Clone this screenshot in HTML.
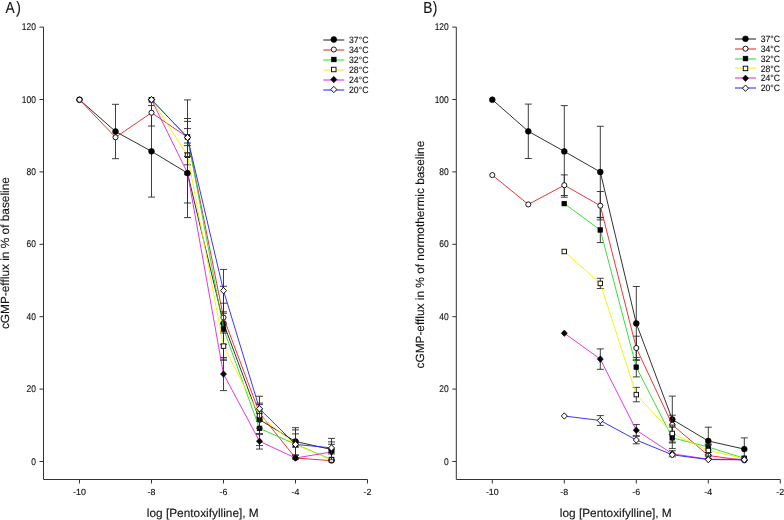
<!DOCTYPE html>
<html><head><meta charset="utf-8"><style>
html,body{margin:0;padding:0;background:#fff;}
svg{display:block;}
#w{width:784px;height:520px;will-change:transform;}
text{text-rendering:geometricPrecision;font-family:"Liberation Sans",sans-serif;fill:#111;stroke:#111;stroke-width:0.12px;}
.tk{font-size:8.9px;}
.lg{font-size:8.7px;}
.ti{font-size:11.85px;}
.tiy{font-size:11.87px;}
.pl{font-size:16px;}
</style></head><body>
<div id="w"><svg width="784" height="520" viewBox="0 0 784 520">
<rect width="784" height="520" fill="#fff"/>
<g>
<path d="M43.5 27.10V479.50H367.50" fill="none" stroke="#333" stroke-width="1"/>
<line x1="39.5" y1="461.50" x2="43.5" y2="461.50" stroke="#333" stroke-width="1"/>
<text transform="translate(35.90 464.60) scale(0.95 1.1)" class="tk" text-anchor="end">0</text>
<line x1="39.5" y1="389.10" x2="43.5" y2="389.10" stroke="#333" stroke-width="1"/>
<text transform="translate(35.90 392.20) scale(0.95 1.1)" class="tk" text-anchor="end">20</text>
<line x1="39.5" y1="316.70" x2="43.5" y2="316.70" stroke="#333" stroke-width="1"/>
<text transform="translate(35.90 319.80) scale(0.95 1.1)" class="tk" text-anchor="end">40</text>
<line x1="39.5" y1="244.30" x2="43.5" y2="244.30" stroke="#333" stroke-width="1"/>
<text transform="translate(35.90 247.40) scale(0.95 1.1)" class="tk" text-anchor="end">60</text>
<line x1="39.5" y1="171.90" x2="43.5" y2="171.90" stroke="#333" stroke-width="1"/>
<text transform="translate(35.90 175.00) scale(0.95 1.1)" class="tk" text-anchor="end">80</text>
<line x1="39.5" y1="99.50" x2="43.5" y2="99.50" stroke="#333" stroke-width="1"/>
<text transform="translate(35.90 102.60) scale(0.95 1.1)" class="tk" text-anchor="end">100</text>
<line x1="39.5" y1="27.10" x2="43.5" y2="27.10" stroke="#333" stroke-width="1"/>
<text transform="translate(35.90 30.20) scale(0.95 1.1)" class="tk" text-anchor="end">120</text>
<line x1="79.50" y1="479.50" x2="79.50" y2="483.50" stroke="#333" stroke-width="1"/>
<text x="79.50" y="494.8" class="tk" text-anchor="middle">-10</text>
<line x1="151.50" y1="479.50" x2="151.50" y2="483.50" stroke="#333" stroke-width="1"/>
<text x="151.50" y="494.8" class="tk" text-anchor="middle">-8</text>
<line x1="223.50" y1="479.50" x2="223.50" y2="483.50" stroke="#333" stroke-width="1"/>
<text x="223.50" y="494.8" class="tk" text-anchor="middle">-6</text>
<line x1="295.50" y1="479.50" x2="295.50" y2="483.50" stroke="#333" stroke-width="1"/>
<text x="295.50" y="494.8" class="tk" text-anchor="middle">-4</text>
<line x1="367.50" y1="479.50" x2="367.50" y2="483.50" stroke="#333" stroke-width="1"/>
<text x="367.50" y="494.8" class="tk" text-anchor="middle">-2</text>
<text x="202.80" y="517.2" class="ti" text-anchor="middle">log [Pentoxifylline], M</text>
<text transform="translate(5.60 12.6) scale(0.86 1)" class="pl">A</text>
<text transform="translate(16.20 12.9) scale(0.86 1.03)" class="pl">)</text>
<path d="M115.50 104.30V158.70M112.00 104.30H119.00M112.00 158.70H119.00" stroke="#2a2a2a" stroke-width="0.9" fill="none"/>
<path d="M151.50 105.50V197.10M148.00 105.50H155.00M148.00 197.10H155.00" stroke="#2a2a2a" stroke-width="0.9" fill="none"/>
<path d="M187.50 128.60V217.60M184.00 128.60H191.00M184.00 217.60H191.00" stroke="#2a2a2a" stroke-width="0.9" fill="none"/>
<path d="M223.50 286.30V360.30M220.00 286.30H227.00M220.00 360.30H227.00" stroke="#2a2a2a" stroke-width="0.9" fill="none"/>
<path d="M259.50 404.60V434.60M256.00 404.60H263.00M256.00 434.60H263.00" stroke="#2a2a2a" stroke-width="0.9" fill="none"/>
<path d="M295.50 427.70V455.30M292.00 427.70H299.00M292.00 455.30H299.00" stroke="#2a2a2a" stroke-width="0.9" fill="none"/>
<path d="M331.50 438.40V460.60M328.00 438.40H335.00M328.00 460.60H335.00" stroke="#2a2a2a" stroke-width="0.9" fill="none"/>
<path d="M79.50 99.70L115.50 131.50L151.50 151.30L187.50 173.10L223.50 323.30L259.50 419.60L295.50 441.50L331.50 449.50" stroke="#1a1a1a" stroke-width="0.9" fill="none"/>
<circle cx="79.50" cy="99.70" r="2.9" fill="#000" stroke="#000" stroke-width="0.6"/>
<circle cx="115.50" cy="131.50" r="2.9" fill="#000" stroke="#000" stroke-width="0.6"/>
<circle cx="151.50" cy="151.30" r="2.9" fill="#000" stroke="#000" stroke-width="0.6"/>
<circle cx="187.50" cy="173.10" r="2.9" fill="#000" stroke="#000" stroke-width="0.6"/>
<circle cx="223.50" cy="323.30" r="2.9" fill="#000" stroke="#000" stroke-width="0.6"/>
<circle cx="259.50" cy="419.60" r="2.9" fill="#000" stroke="#000" stroke-width="0.6"/>
<circle cx="295.50" cy="441.50" r="2.9" fill="#000" stroke="#000" stroke-width="0.6"/>
<circle cx="331.50" cy="449.50" r="2.9" fill="#000" stroke="#000" stroke-width="0.6"/>
<path d="M151.50 99.40V126.00M148.00 99.40H155.00M148.00 126.00H155.00" stroke="#2a2a2a" stroke-width="0.9" fill="none"/>
<path d="M187.50 99.90V174.70M184.00 99.90H191.00M184.00 174.70H191.00" stroke="#2a2a2a" stroke-width="0.9" fill="none"/>
<path d="M223.50 303.20V331.80M220.00 303.20H227.00M220.00 331.80H227.00" stroke="#2a2a2a" stroke-width="0.9" fill="none"/>
<path d="M259.50 409.10V417.10M256.00 409.10H263.00M256.00 417.10H263.00" stroke="#2a2a2a" stroke-width="0.9" fill="none"/>
<path d="M79.50 99.70L115.50 137.30L151.50 112.70L187.50 137.30L223.50 317.50L259.50 413.10L295.50 458.00L331.50 460.70" stroke="#e82020" stroke-width="0.9" fill="none"/>
<circle cx="79.50" cy="99.70" r="2.55" fill="#fff" stroke="#000" stroke-width="0.9"/>
<circle cx="115.50" cy="137.30" r="2.55" fill="#fff" stroke="#000" stroke-width="0.9"/>
<circle cx="151.50" cy="112.70" r="2.55" fill="#fff" stroke="#000" stroke-width="0.9"/>
<circle cx="187.50" cy="137.30" r="2.55" fill="#fff" stroke="#000" stroke-width="0.9"/>
<circle cx="223.50" cy="317.50" r="2.55" fill="#fff" stroke="#000" stroke-width="0.9"/>
<circle cx="259.50" cy="413.10" r="2.55" fill="#fff" stroke="#000" stroke-width="0.9"/>
<circle cx="295.50" cy="458.00" r="2.55" fill="#fff" stroke="#000" stroke-width="0.9"/>
<circle cx="331.50" cy="460.70" r="2.55" fill="#fff" stroke="#000" stroke-width="0.9"/>
<path d="M187.50 121.40V152.80M184.00 121.40H191.00M184.00 152.80H191.00" stroke="#2a2a2a" stroke-width="0.9" fill="none"/>
<path d="M223.50 313.30V344.30M220.00 313.30H227.00M220.00 344.30H227.00" stroke="#2a2a2a" stroke-width="0.9" fill="none"/>
<path d="M259.50 411.20V445.60M256.00 411.20H263.00M256.00 445.60H263.00" stroke="#2a2a2a" stroke-width="0.9" fill="none"/>
<path d="M295.50 441.20V447.20M292.00 441.20H299.00M292.00 447.20H299.00" stroke="#2a2a2a" stroke-width="0.9" fill="none"/>
<path d="M151.50 99.70L187.50 137.10L223.50 328.80L259.50 428.40L295.50 444.20L331.50 459.50" stroke="#20dd20" stroke-width="0.9" fill="none"/>
<rect x="149.10" y="97.30" width="4.8" height="4.8" fill="#000" stroke="#000" stroke-width="0.5"/>
<rect x="185.10" y="134.70" width="4.8" height="4.8" fill="#000" stroke="#000" stroke-width="0.5"/>
<rect x="221.10" y="326.40" width="4.8" height="4.8" fill="#000" stroke="#000" stroke-width="0.5"/>
<rect x="257.10" y="426.00" width="4.8" height="4.8" fill="#000" stroke="#000" stroke-width="0.5"/>
<rect x="293.10" y="441.80" width="4.8" height="4.8" fill="#000" stroke="#000" stroke-width="0.5"/>
<rect x="329.10" y="457.10" width="4.8" height="4.8" fill="#000" stroke="#000" stroke-width="0.5"/>
<path d="M187.50 145.60V164.80M184.00 145.60H191.00M184.00 164.80H191.00" stroke="#2a2a2a" stroke-width="0.9" fill="none"/>
<path d="M223.50 333.10V359.10M220.00 333.10H227.00M220.00 359.10H227.00" stroke="#2a2a2a" stroke-width="0.9" fill="none"/>
<path d="M259.50 403.10V428.10M256.00 403.10H263.00M256.00 428.10H263.00" stroke="#2a2a2a" stroke-width="0.9" fill="none"/>
<path d="M295.50 429.90V459.10M292.00 429.90H299.00M292.00 459.10H299.00" stroke="#2a2a2a" stroke-width="0.9" fill="none"/>
<path d="M151.50 99.70L187.50 155.20L223.50 346.10L259.50 415.60L295.50 444.50L331.50 460.00" stroke="#f2f200" stroke-width="0.9" fill="none"/>
<rect x="149.25" y="97.45" width="4.5" height="4.5" fill="#fff" stroke="#000" stroke-width="0.9"/>
<rect x="185.25" y="152.95" width="4.5" height="4.5" fill="#fff" stroke="#000" stroke-width="0.9"/>
<rect x="221.25" y="343.85" width="4.5" height="4.5" fill="#fff" stroke="#000" stroke-width="0.9"/>
<rect x="257.25" y="413.35" width="4.5" height="4.5" fill="#fff" stroke="#000" stroke-width="0.9"/>
<rect x="293.25" y="442.25" width="4.5" height="4.5" fill="#fff" stroke="#000" stroke-width="0.9"/>
<rect x="329.25" y="457.75" width="4.5" height="4.5" fill="#fff" stroke="#000" stroke-width="0.9"/>
<path d="M187.50 143.00V203.00M184.00 143.00H191.00M184.00 203.00H191.00" stroke="#2a2a2a" stroke-width="0.9" fill="none"/>
<path d="M223.50 357.40V390.60M220.00 357.40H227.00M220.00 390.60H227.00" stroke="#2a2a2a" stroke-width="0.9" fill="none"/>
<path d="M259.50 433.45V449.05M256.00 433.45H263.00M256.00 449.05H263.00" stroke="#2a2a2a" stroke-width="0.9" fill="none"/>
<path d="M331.50 444.30V459.70M328.00 444.30H335.00M328.00 459.70H335.00" stroke="#2a2a2a" stroke-width="0.9" fill="none"/>
<path d="M151.50 99.70L187.50 173.00L223.50 374.00L259.50 441.25L295.50 458.00L331.50 452.00" stroke="#e020e0" stroke-width="0.9" fill="none"/>
<path d="M151.50 96.40L154.60 99.70L151.50 103.00L148.40 99.70Z" fill="#000" stroke="#000" stroke-width="0.5"/>
<path d="M187.50 169.70L190.60 173.00L187.50 176.30L184.40 173.00Z" fill="#000" stroke="#000" stroke-width="0.5"/>
<path d="M223.50 370.70L226.60 374.00L223.50 377.30L220.40 374.00Z" fill="#000" stroke="#000" stroke-width="0.5"/>
<path d="M259.50 437.95L262.60 441.25L259.50 444.55L256.40 441.25Z" fill="#000" stroke="#000" stroke-width="0.5"/>
<path d="M295.50 454.70L298.60 458.00L295.50 461.30L292.40 458.00Z" fill="#000" stroke="#000" stroke-width="0.5"/>
<path d="M331.50 448.70L334.60 452.00L331.50 455.30L328.40 452.00Z" fill="#000" stroke="#000" stroke-width="0.5"/>
<path d="M187.50 118.50V156.50M184.00 118.50H191.00M184.00 156.50H191.00" stroke="#2a2a2a" stroke-width="0.9" fill="none"/>
<path d="M223.50 269.40V311.80M220.00 269.40H227.00M220.00 311.80H227.00" stroke="#2a2a2a" stroke-width="0.9" fill="none"/>
<path d="M259.50 396.25V421.25M256.00 396.25H263.00M256.00 421.25H263.00" stroke="#2a2a2a" stroke-width="0.9" fill="none"/>
<path d="M295.50 433.90V454.90M292.00 433.90H299.00M292.00 454.90H299.00" stroke="#2a2a2a" stroke-width="0.9" fill="none"/>
<path d="M331.50 441.90V453.90M328.00 441.90H335.00M328.00 453.90H335.00" stroke="#2a2a2a" stroke-width="0.9" fill="none"/>
<path d="M151.50 99.70L187.50 137.50L223.50 290.60L259.50 408.75L295.50 444.40L331.50 447.90" stroke="#2020f0" stroke-width="0.9" fill="none"/>
<path d="M151.50 96.50L154.50 99.70L151.50 102.90L148.50 99.70Z" fill="#fff" stroke="#000" stroke-width="0.9"/>
<path d="M187.50 134.30L190.50 137.50L187.50 140.70L184.50 137.50Z" fill="#fff" stroke="#000" stroke-width="0.9"/>
<path d="M223.50 287.40L226.50 290.60L223.50 293.80L220.50 290.60Z" fill="#fff" stroke="#000" stroke-width="0.9"/>
<path d="M259.50 405.55L262.50 408.75L259.50 411.95L256.50 408.75Z" fill="#fff" stroke="#000" stroke-width="0.9"/>
<path d="M295.50 441.20L298.50 444.40L295.50 447.60L292.50 444.40Z" fill="#fff" stroke="#000" stroke-width="0.9"/>
<path d="M331.50 444.70L334.50 447.90L331.50 451.10L328.50 447.90Z" fill="#fff" stroke="#000" stroke-width="0.9"/>
<line x1="323.30" y1="40.00" x2="344.30" y2="40.00" stroke="#1a1a1a" stroke-width="1"/>
<circle cx="333.80" cy="39.50" r="2.9" fill="#000" stroke="#000" stroke-width="0.6"/>
<text transform="translate(349.00 42.60) scale(1 1.05)" class="lg">37°C</text>
<line x1="323.30" y1="50.00" x2="344.30" y2="50.00" stroke="#e82020" stroke-width="1"/>
<circle cx="333.80" cy="49.50" r="2.55" fill="#fff" stroke="#000" stroke-width="0.9"/>
<text transform="translate(349.00 52.60) scale(1 1.05)" class="lg">34°C</text>
<line x1="323.30" y1="60.00" x2="344.30" y2="60.00" stroke="#20dd20" stroke-width="1"/>
<rect x="331.40" y="57.10" width="4.8" height="4.8" fill="#000" stroke="#000" stroke-width="0.5"/>
<text transform="translate(349.00 62.60) scale(1 1.05)" class="lg">32°C</text>
<line x1="323.30" y1="70.00" x2="344.30" y2="70.00" stroke="#f2f200" stroke-width="1"/>
<rect x="331.55" y="67.25" width="4.5" height="4.5" fill="#fff" stroke="#000" stroke-width="0.9"/>
<text transform="translate(349.00 72.60) scale(1 1.05)" class="lg">28°C</text>
<line x1="323.30" y1="80.00" x2="344.30" y2="80.00" stroke="#e020e0" stroke-width="1"/>
<path d="M333.80 76.20L336.90 79.50L333.80 82.80L330.70 79.50Z" fill="#000" stroke="#000" stroke-width="0.5"/>
<text transform="translate(349.00 82.60) scale(1 1.05)" class="lg">24°C</text>
<line x1="323.30" y1="90.00" x2="344.30" y2="90.00" stroke="#2020f0" stroke-width="1"/>
<path d="M333.80 86.30L336.80 89.50L333.80 92.70L330.80 89.50Z" fill="#fff" stroke="#000" stroke-width="0.9"/>
<text transform="translate(349.00 92.60) scale(1 1.05)" class="lg">20°C</text>
<path d="M456.3 27.10V479.50H780.30" fill="none" stroke="#333" stroke-width="1"/>
<line x1="452.3" y1="461.50" x2="456.3" y2="461.50" stroke="#333" stroke-width="1"/>
<text transform="translate(448.70 464.60) scale(0.95 1.1)" class="tk" text-anchor="end">0</text>
<line x1="452.3" y1="389.10" x2="456.3" y2="389.10" stroke="#333" stroke-width="1"/>
<text transform="translate(448.70 392.20) scale(0.95 1.1)" class="tk" text-anchor="end">20</text>
<line x1="452.3" y1="316.70" x2="456.3" y2="316.70" stroke="#333" stroke-width="1"/>
<text transform="translate(448.70 319.80) scale(0.95 1.1)" class="tk" text-anchor="end">40</text>
<line x1="452.3" y1="244.30" x2="456.3" y2="244.30" stroke="#333" stroke-width="1"/>
<text transform="translate(448.70 247.40) scale(0.95 1.1)" class="tk" text-anchor="end">60</text>
<line x1="452.3" y1="171.90" x2="456.3" y2="171.90" stroke="#333" stroke-width="1"/>
<text transform="translate(448.70 175.00) scale(0.95 1.1)" class="tk" text-anchor="end">80</text>
<line x1="452.3" y1="99.50" x2="456.3" y2="99.50" stroke="#333" stroke-width="1"/>
<text transform="translate(448.70 102.60) scale(0.95 1.1)" class="tk" text-anchor="end">100</text>
<line x1="452.3" y1="27.10" x2="456.3" y2="27.10" stroke="#333" stroke-width="1"/>
<text transform="translate(448.70 30.20) scale(0.95 1.1)" class="tk" text-anchor="end">120</text>
<line x1="492.30" y1="479.50" x2="492.30" y2="483.50" stroke="#333" stroke-width="1"/>
<text x="492.30" y="494.8" class="tk" text-anchor="middle">-10</text>
<line x1="564.30" y1="479.50" x2="564.30" y2="483.50" stroke="#333" stroke-width="1"/>
<text x="564.30" y="494.8" class="tk" text-anchor="middle">-8</text>
<line x1="636.30" y1="479.50" x2="636.30" y2="483.50" stroke="#333" stroke-width="1"/>
<text x="636.30" y="494.8" class="tk" text-anchor="middle">-6</text>
<line x1="708.30" y1="479.50" x2="708.30" y2="483.50" stroke="#333" stroke-width="1"/>
<text x="708.30" y="494.8" class="tk" text-anchor="middle">-4</text>
<line x1="780.30" y1="479.50" x2="780.30" y2="483.50" stroke="#333" stroke-width="1"/>
<text x="780.30" y="494.8" class="tk" text-anchor="middle">-2</text>
<text x="615.80" y="517.2" class="ti" text-anchor="middle">log [Pentoxifylline], M</text>
<text transform="translate(423.20 12.6) scale(0.86 1)" class="pl">B</text>
<text transform="translate(432.80 12.9) scale(0.86 1.03)" class="pl">)</text>
<path d="M528.30 104.10V158.50M524.80 104.10H531.80M524.80 158.50H531.80" stroke="#2a2a2a" stroke-width="0.9" fill="none"/>
<path d="M564.30 105.60V197.20M560.80 105.60H567.80M560.80 197.20H567.80" stroke="#2a2a2a" stroke-width="0.9" fill="none"/>
<path d="M600.30 126.30V217.70M596.80 126.30H603.80M596.80 217.70H603.80" stroke="#2a2a2a" stroke-width="0.9" fill="none"/>
<path d="M636.30 286.50V360.30M632.80 286.50H639.80M632.80 360.30H639.80" stroke="#2a2a2a" stroke-width="0.9" fill="none"/>
<path d="M672.30 396.10V442.90M668.80 396.10H675.80M668.80 442.90H675.80" stroke="#2a2a2a" stroke-width="0.9" fill="none"/>
<path d="M708.30 427.20V454.80M704.80 427.20H711.80M704.80 454.80H711.80" stroke="#2a2a2a" stroke-width="0.9" fill="none"/>
<path d="M744.30 437.90V460.30M740.80 437.90H747.80M740.80 460.30H747.80" stroke="#2a2a2a" stroke-width="0.9" fill="none"/>
<path d="M492.30 99.70L528.30 131.30L564.30 151.40L600.30 172.00L636.30 323.40L672.30 419.50L708.30 441.00L744.30 449.10" stroke="#1a1a1a" stroke-width="0.9" fill="none"/>
<circle cx="492.30" cy="99.70" r="2.9" fill="#000" stroke="#000" stroke-width="0.6"/>
<circle cx="528.30" cy="131.30" r="2.9" fill="#000" stroke="#000" stroke-width="0.6"/>
<circle cx="564.30" cy="151.40" r="2.9" fill="#000" stroke="#000" stroke-width="0.6"/>
<circle cx="600.30" cy="172.00" r="2.9" fill="#000" stroke="#000" stroke-width="0.6"/>
<circle cx="636.30" cy="323.40" r="2.9" fill="#000" stroke="#000" stroke-width="0.6"/>
<circle cx="672.30" cy="419.50" r="2.9" fill="#000" stroke="#000" stroke-width="0.6"/>
<circle cx="708.30" cy="441.00" r="2.9" fill="#000" stroke="#000" stroke-width="0.6"/>
<circle cx="744.30" cy="449.10" r="2.9" fill="#000" stroke="#000" stroke-width="0.6"/>
<path d="M564.30 174.90V195.50M560.80 174.90H567.80M560.80 195.50H567.80" stroke="#2a2a2a" stroke-width="0.9" fill="none"/>
<path d="M600.30 191.50V219.90M596.80 191.50H603.80M596.80 219.90H603.80" stroke="#2a2a2a" stroke-width="0.9" fill="none"/>
<path d="M636.30 336.20V359.80M632.80 336.20H639.80M632.80 359.80H639.80" stroke="#2a2a2a" stroke-width="0.9" fill="none"/>
<path d="M672.30 415.20V434.40M668.80 415.20H675.80M668.80 434.40H675.80" stroke="#2a2a2a" stroke-width="0.9" fill="none"/>
<path d="M708.30 452.50V458.50M704.80 452.50H711.80M704.80 458.50H711.80" stroke="#2a2a2a" stroke-width="0.9" fill="none"/>
<path d="M492.30 175.10L528.30 204.40L564.30 185.20L600.30 205.70L636.30 348.00L672.30 424.80L708.30 455.50L744.30 460.40" stroke="#e82020" stroke-width="0.9" fill="none"/>
<circle cx="492.30" cy="175.10" r="2.55" fill="#fff" stroke="#000" stroke-width="0.9"/>
<circle cx="528.30" cy="204.40" r="2.55" fill="#fff" stroke="#000" stroke-width="0.9"/>
<circle cx="564.30" cy="185.20" r="2.55" fill="#fff" stroke="#000" stroke-width="0.9"/>
<circle cx="600.30" cy="205.70" r="2.55" fill="#fff" stroke="#000" stroke-width="0.9"/>
<circle cx="636.30" cy="348.00" r="2.55" fill="#fff" stroke="#000" stroke-width="0.9"/>
<circle cx="672.30" cy="424.80" r="2.55" fill="#fff" stroke="#000" stroke-width="0.9"/>
<circle cx="708.30" cy="455.50" r="2.55" fill="#fff" stroke="#000" stroke-width="0.9"/>
<circle cx="744.30" cy="460.40" r="2.55" fill="#fff" stroke="#000" stroke-width="0.9"/>
<path d="M600.30 217.40V242.60M596.80 217.40H603.80M596.80 242.60H603.80" stroke="#2a2a2a" stroke-width="0.9" fill="none"/>
<path d="M636.30 357.50V376.90M632.80 357.50H639.80M632.80 376.90H639.80" stroke="#2a2a2a" stroke-width="0.9" fill="none"/>
<path d="M672.30 427.00V448.60M668.80 427.00H675.80M668.80 448.60H675.80" stroke="#2a2a2a" stroke-width="0.9" fill="none"/>
<path d="M708.30 444.00V450.00M704.80 444.00H711.80M704.80 450.00H711.80" stroke="#2a2a2a" stroke-width="0.9" fill="none"/>
<path d="M564.30 203.60L600.30 230.00L636.30 367.20L672.30 437.80L708.30 447.00L744.30 458.30" stroke="#20dd20" stroke-width="0.9" fill="none"/>
<rect x="561.90" y="201.20" width="4.8" height="4.8" fill="#000" stroke="#000" stroke-width="0.5"/>
<rect x="597.90" y="227.60" width="4.8" height="4.8" fill="#000" stroke="#000" stroke-width="0.5"/>
<rect x="633.90" y="364.80" width="4.8" height="4.8" fill="#000" stroke="#000" stroke-width="0.5"/>
<rect x="669.90" y="435.40" width="4.8" height="4.8" fill="#000" stroke="#000" stroke-width="0.5"/>
<rect x="705.90" y="444.60" width="4.8" height="4.8" fill="#000" stroke="#000" stroke-width="0.5"/>
<rect x="741.90" y="455.90" width="4.8" height="4.8" fill="#000" stroke="#000" stroke-width="0.5"/>
<path d="M600.30 278.30V288.50M596.80 278.30H603.80M596.80 288.50H603.80" stroke="#2a2a2a" stroke-width="0.9" fill="none"/>
<path d="M636.30 387.40V401.80M632.80 387.40H639.80M632.80 401.80H639.80" stroke="#2a2a2a" stroke-width="0.9" fill="none"/>
<path d="M672.30 425.00V442.00M668.80 425.00H675.80M668.80 442.00H675.80" stroke="#2a2a2a" stroke-width="0.9" fill="none"/>
<path d="M708.30 445.00V456.00M704.80 445.00H711.80M704.80 456.00H711.80" stroke="#2a2a2a" stroke-width="0.9" fill="none"/>
<path d="M564.30 251.50L600.30 283.40L636.30 394.60L672.30 433.50L708.30 450.50L744.30 458.60" stroke="#f2f200" stroke-width="0.9" fill="none"/>
<rect x="562.05" y="249.25" width="4.5" height="4.5" fill="#fff" stroke="#000" stroke-width="0.9"/>
<rect x="598.05" y="281.15" width="4.5" height="4.5" fill="#fff" stroke="#000" stroke-width="0.9"/>
<rect x="634.05" y="392.35" width="4.5" height="4.5" fill="#fff" stroke="#000" stroke-width="0.9"/>
<rect x="670.05" y="431.25" width="4.5" height="4.5" fill="#fff" stroke="#000" stroke-width="0.9"/>
<rect x="706.05" y="448.25" width="4.5" height="4.5" fill="#fff" stroke="#000" stroke-width="0.9"/>
<rect x="742.05" y="456.35" width="4.5" height="4.5" fill="#fff" stroke="#000" stroke-width="0.9"/>
<path d="M600.30 348.90V369.30M596.80 348.90H603.80M596.80 369.30H603.80" stroke="#2a2a2a" stroke-width="0.9" fill="none"/>
<path d="M636.30 424.60V435.80M632.80 424.60H639.80M632.80 435.80H639.80" stroke="#2a2a2a" stroke-width="0.9" fill="none"/>
<path d="M672.30 450.80V456.80M668.80 450.80H675.80M668.80 456.80H675.80" stroke="#2a2a2a" stroke-width="0.9" fill="none"/>
<path d="M564.30 333.20L600.30 359.10L636.30 430.20L672.30 453.80L708.30 459.20L744.30 459.20" stroke="#e020e0" stroke-width="0.9" fill="none"/>
<path d="M564.30 329.90L567.40 333.20L564.30 336.50L561.20 333.20Z" fill="#000" stroke="#000" stroke-width="0.5"/>
<path d="M600.30 355.80L603.40 359.10L600.30 362.40L597.20 359.10Z" fill="#000" stroke="#000" stroke-width="0.5"/>
<path d="M636.30 426.90L639.40 430.20L636.30 433.50L633.20 430.20Z" fill="#000" stroke="#000" stroke-width="0.5"/>
<path d="M672.30 450.50L675.40 453.80L672.30 457.10L669.20 453.80Z" fill="#000" stroke="#000" stroke-width="0.5"/>
<path d="M708.30 455.90L711.40 459.20L708.30 462.50L705.20 459.20Z" fill="#000" stroke="#000" stroke-width="0.5"/>
<path d="M744.30 455.90L747.40 459.20L744.30 462.50L741.20 459.20Z" fill="#000" stroke="#000" stroke-width="0.5"/>
<path d="M600.30 415.60V425.40M596.80 415.60H603.80M596.80 425.40H603.80" stroke="#2a2a2a" stroke-width="0.9" fill="none"/>
<path d="M636.30 436.20V443.80M632.80 436.20H639.80M632.80 443.80H639.80" stroke="#2a2a2a" stroke-width="0.9" fill="none"/>
<path d="M564.30 416.00L600.30 420.50L636.30 440.00L672.30 454.80L708.30 459.60L744.30 459.80" stroke="#2020f0" stroke-width="0.9" fill="none"/>
<path d="M564.30 412.80L567.30 416.00L564.30 419.20L561.30 416.00Z" fill="#fff" stroke="#000" stroke-width="0.9"/>
<path d="M600.30 417.30L603.30 420.50L600.30 423.70L597.30 420.50Z" fill="#fff" stroke="#000" stroke-width="0.9"/>
<path d="M636.30 436.80L639.30 440.00L636.30 443.20L633.30 440.00Z" fill="#fff" stroke="#000" stroke-width="0.9"/>
<path d="M672.30 451.60L675.30 454.80L672.30 458.00L669.30 454.80Z" fill="#fff" stroke="#000" stroke-width="0.9"/>
<path d="M708.30 456.40L711.30 459.60L708.30 462.80L705.30 459.60Z" fill="#fff" stroke="#000" stroke-width="0.9"/>
<path d="M744.30 456.60L747.30 459.80L744.30 463.00L741.30 459.80Z" fill="#fff" stroke="#000" stroke-width="0.9"/>
<line x1="735.00" y1="39.00" x2="756.00" y2="39.00" stroke="#1a1a1a" stroke-width="1"/>
<circle cx="745.50" cy="38.80" r="2.9" fill="#000" stroke="#000" stroke-width="0.6"/>
<text transform="translate(760.70 41.90) scale(1 1.05)" class="lg">37°C</text>
<line x1="735.00" y1="49.00" x2="756.00" y2="49.00" stroke="#e82020" stroke-width="1"/>
<circle cx="745.50" cy="48.68" r="2.55" fill="#fff" stroke="#000" stroke-width="0.9"/>
<text transform="translate(760.70 51.78) scale(1 1.05)" class="lg">34°C</text>
<line x1="735.00" y1="59.00" x2="756.00" y2="59.00" stroke="#20dd20" stroke-width="1"/>
<rect x="743.10" y="56.16" width="4.8" height="4.8" fill="#000" stroke="#000" stroke-width="0.5"/>
<text transform="translate(760.70 61.66) scale(1 1.05)" class="lg">32°C</text>
<line x1="735.00" y1="68.00" x2="756.00" y2="68.00" stroke="#f2f200" stroke-width="1"/>
<rect x="743.25" y="66.19" width="4.5" height="4.5" fill="#fff" stroke="#000" stroke-width="0.9"/>
<text transform="translate(760.70 71.54) scale(1 1.05)" class="lg">28°C</text>
<line x1="735.00" y1="78.00" x2="756.00" y2="78.00" stroke="#e020e0" stroke-width="1"/>
<path d="M745.50 75.02L748.60 78.32L745.50 81.62L742.40 78.32Z" fill="#000" stroke="#000" stroke-width="0.5"/>
<text transform="translate(760.70 81.42) scale(1 1.05)" class="lg">24°C</text>
<line x1="735.00" y1="88.00" x2="756.00" y2="88.00" stroke="#2020f0" stroke-width="1"/>
<path d="M745.50 85.00L748.50 88.20L745.50 91.40L742.50 88.20Z" fill="#fff" stroke="#000" stroke-width="0.9"/>
<text transform="translate(760.70 91.30) scale(1 1.05)" class="lg">20°C</text>
<text transform="translate(9.3 253.1) rotate(-90)" class="tiy" text-anchor="middle">cGMP-efflux in % of baseline</text>
<text transform="translate(423.6 254.6) rotate(-90)" class="tiy" text-anchor="middle">cGMP-efflux in % of normothermic baseline</text>
</g>
</svg></div>
</body></html>
